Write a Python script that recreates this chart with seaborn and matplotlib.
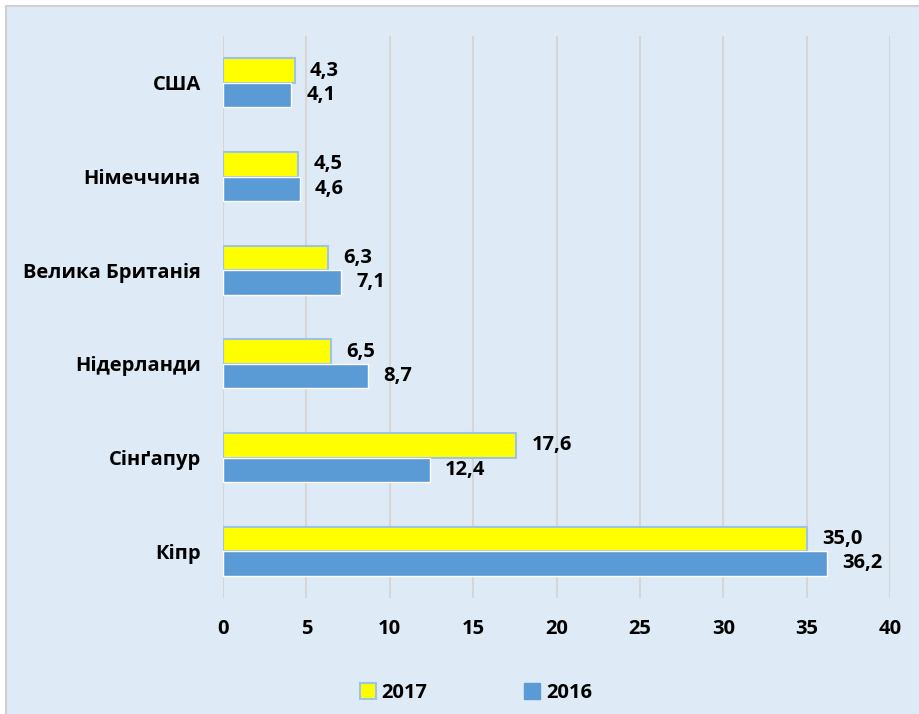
import numpy as np
import pandas as pd
import matplotlib.pyplot as plt
import matplotlib.patches as mpatches
import seaborn as sns

countries = ['США', 'Німеччина', 'Велика Британія', 'Нідерланди', 'Сінґапур', 'Кіпр']
years = ['2017', '2016']
values_2017 = [4.3, 4.5, 6.3, 6.5, 17.6, 35.0]
values_2016 = [4.1, 4.6, 7.1, 8.7, 12.4, 36.2]

df = pd.DataFrame({
    'country': countries * 2,
    'year': ['2017'] * len(countries) + ['2016'] * len(countries),
    'value': values_2017 + values_2016,
})

bg = '#DEEAF6'
colors = {'2017': '#FFFF00', '2016': '#5B9BD5'}

sns.set_style('white')
plt.rcParams['font.family'] = ['Open Sans', 'DejaVu Sans']
plt.rcParams['font.weight'] = 'bold'
plt.rcParams['text.color'] = 'black'
plt.rcParams['xtick.color'] = 'black'
plt.rcParams['ytick.color'] = 'black'

fig = plt.figure(figsize=(9.19, 7.14), dpi=100, facecolor='white')
# light-blue chart area with a thin grey border (cut off at right/bottom)
fig.patches.append(mpatches.Rectangle((6 / 919, -0.1), 1.2, 1 - 6 / 714 + 0.1,
                                      transform=fig.transFigure, facecolor=bg,
                                      edgecolor='#D0D0D0', lw=1.5, zorder=-10))

ax = fig.add_axes([223 / 919, 1 - 598 / 714, (890 - 223) / 919, (598 - 36) / 714])
ax.set_facecolor(bg)

sns.barplot(data=df, y='country', x='value', hue='year', hue_order=years,
            order=countries, palette=colors, orient='h', width=0.52,
            saturation=1, ax=ax, legend=False, zorder=3)

# yellow bars have a light blue outline
for bar in ax.containers[0]:
    bar.set_edgecolor('#9DC3E6')
    bar.set_linewidth(1.5)

for cont, vals in zip(ax.containers, [values_2017, values_2016]):
    labels = [f'{v:.1f}'.replace('.', ',') for v in vals]
    ax.bar_label(cont, labels=labels, padding=11, fontsize=14.5, fontweight='bold',
                 color='black')

ax.set_xlim(0, 40)
ax.set_xticks(range(0, 41, 5))
ax.xaxis.grid(True, color='#D6D6D6', lw=1.5, zorder=0)
ax.set_axisbelow(True)
for s in ax.spines.values():
    s.set_visible(False)
ax.tick_params(axis='both', length=0, labelsize=14.5)
ax.tick_params(axis='x', pad=15)
ax.tick_params(axis='y', pad=16)
for lab in ax.get_xticklabels() + ax.get_yticklabels():
    lab.set_fontweight('bold')
ax.set_xlabel('')
ax.set_ylabel('')

handles = [mpatches.Patch(facecolor=colors['2017'], edgecolor='#9DC3E6', lw=1.5, label='2017'),
           mpatches.Patch(facecolor=colors['2016'], edgecolor=colors['2016'], label='2016')]
fig.legend(handles=handles, loc='center', bbox_to_anchor=(476 / 919, 1 - 693 / 714),
           ncol=2, frameon=False, handlelength=0.8, handleheight=0.8,
           handletextpad=0.3, columnspacing=4.8, prop={'weight': 'bold', 'size': 14.5})

fig.savefig('out.png', dpi=100, facecolor='white')
